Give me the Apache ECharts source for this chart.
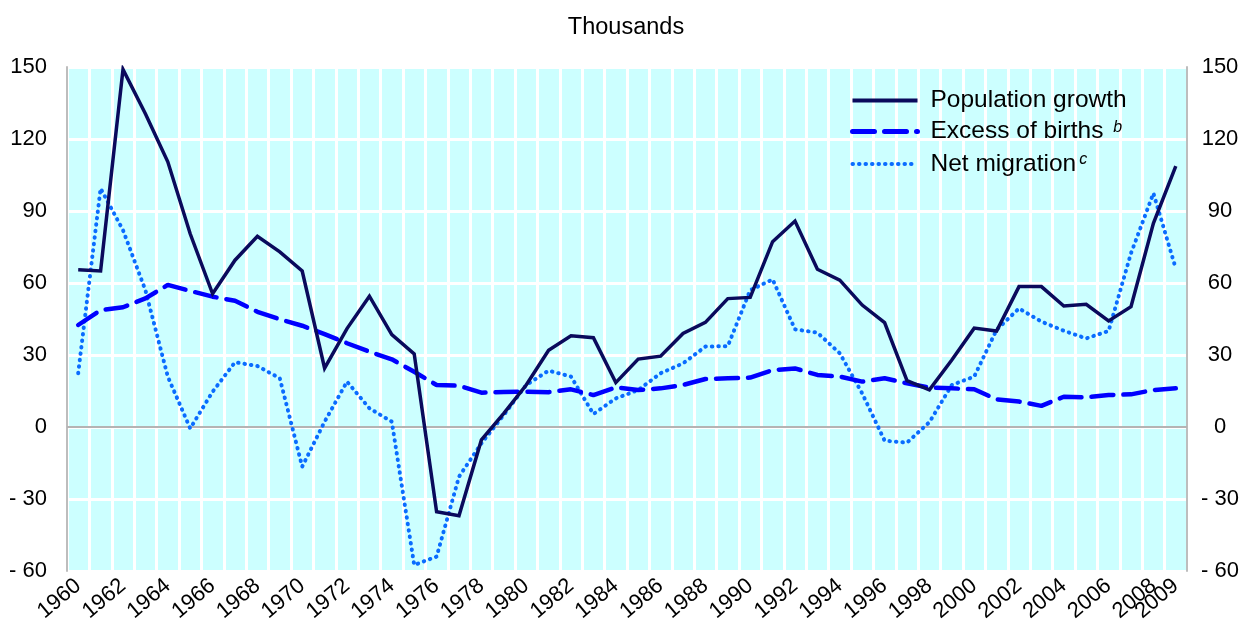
<!DOCTYPE html>
<html>
<head>
<meta charset="utf-8">
<script src="https://cdn.jsdelivr.net/npm/echarts@6/dist/echarts.min.js"></script>
<style>
html,body{margin:0;padding:0;background:#fff;}
#chart{width:1252px;height:619px;}
</style>
</head>
<body>
<div id="chart"></div>
<script>
const years = [];
for (let y = 1960; y <= 2009; y++) years.push(String(y));

const populationGrowth = [65.5, 65, 149, 130.5, 110.5, 80.5, 55.5, 69.5, 79.5, 73, 65, 24.5,
  41, 54.5, 38.5, 30.5, -35.3, -37, -5.4, 5.7, 17.5, 32, 38, 37.2, 18.5,
  28.3, 29.5, 39, 43.6, 53.5, 54, 77.2, 85.8, 65.7, 61.2, 50.8, 43.5, 19.3,
  15.5, 27.9, 41.2, 40, 58.5, 58.5, 50.4, 51.1, 44.2, 50.1, 84.9, 108.7];

const excessOfBirths = [42.5, 48.7, 49.9, 53.6, 59.2, 56.7, 54.3, 52.6, 48, 44.9, 42.2, 38.7,
  34.9, 31.4, 28.2, 23, 17.5, 17.2, 14.3, 14.6, 14.7, 14.5, 15.7, 13.3, 16.5,
  15.4, 16.1, 17.5, 20, 20.3, 20.6, 23.7, 24.4, 21.7, 21, 18.9, 20.3, 18.2,
  16.4, 16.1, 15.7, 11.5, 10.6, 8.8, 12.6, 12.4, 13.3, 13.6, 15.4, 16.1];

const netMigration = [22.4, 99.4, 82, 57, 21, -0.6, 14.7, 27, 25.4, 20.3, -16.5, 2.2,
  18.9, 7.8, 2.2, -57.5, -54, -20.7, -6.8, 5, 17.5, 23.5, 21, 5.4, 11.9,
  15.4, 22.4, 26.5, 33.5, 33.7, 57, 61.5, 40.7, 39.3, 30.7, 14, -5.7, -6.5,
  2, 17.5, 21, 40.5, 49.4, 43.9, 40.1, 36.9, 40, 72.4, 97.4, 66];

const yTicks = {min: -60, max: 150, interval: 30};

const chart = echarts.init(document.getElementById('chart'), null, {renderer: 'canvas'});
const FONT = '"Liberation Sans", Arial, sans-serif';
const fmt = v => v < 0 ? '- ' + Math.abs(v) : String(v);
const BORDER = {show: true, lineStyle: {color: '#bdbdbd', width: 2}};
const xLabelStyle = {rotate: 40, margin: 12, fontFamily: FONT, fontSize: 22, color: '#000'};

const solidStyle = {color: '#0a0a5c', width: 3.5, join: 'miter'};
const dashStyle = {color: '#0000ff', width: 4.5, type: [22, 10], cap: 'round'};
const dotStyle = {color: '#0a6cff', width: 4, type: [0.5, 6], cap: 'round'};

chart.setOption({
  animation: false,
  backgroundColor: '#ffffff',
  title: {
    text: 'Thousands',
    left: 'center',
    top: 11,
    textStyle: {fontFamily: FONT, fontSize: 23.5, fontWeight: 'normal', color: '#000'}
  },
  grid: {
    left: 67, right: 65, top: 67, bottom: 48,
    outerBoundsMode: 'none',
    containLabel: false,
    show: true,
    backgroundColor: '#ccffff',
    borderWidth: 0
  },
  legend: {
    orient: 'vertical',
    left: 845,
    top: 83,
    itemWidth: 65,
    itemHeight: 14,
    itemGap: 6,
    itemStyle: {opacity: 0},
    textStyle: {
      fontFamily: FONT, fontSize: 24.5, color: '#000', lineHeight: 22,
      padding: [0, 0, 0, 8],
      rich: {
        n: {fontFamily: FONT, fontSize: 24.5, color: '#000', lineHeight: 24},
        s: {fontFamily: FONT, fontSize: 16, fontStyle: 'italic', color: '#000', verticalAlign: 'top', padding: [0, 0, 10, 3], lineHeight: 24}
      }
    },
    formatter: function (name) {
      if (name === 'Excess of births') return '{n|Excess of births }{s|b}';
      if (name === 'Net migration') return '{n|Net migration}{s|c}';
      return '{n|' + name + '}';
    },
    data: [
      {name: 'Population growth', lineStyle: {width: 4}},
      {name: 'Excess of births', lineStyle: {width: 5}},
      {name: 'Net migration', lineStyle: {width: 4}}
    ]
  },
  xAxis: [{
    type: 'category',
    data: years,
    boundaryGap: true,
    position: 'bottom',
    axisLine: BORDER,
    axisTick: {show: false},
    splitLine: {show: true, interval: 0, lineStyle: {color: '#ffffff', width: 3}},
    axisLabel: Object.assign({
      interval: function (i) { return i % 2 === 0; }
    }, xLabelStyle)
  }, {
    type: 'category',
    data: years,
    position: 'top',
    axisLine: BORDER,
    axisTick: {show: false},
    axisLabel: {show: false},
    splitLine: {show: false}
  }, {
    type: 'category',
    data: years,
    position: 'bottom',
    offset: 0,
    axisLine: {show: false},
    axisTick: {show: false},
    splitLine: {show: false},
    axisLabel: Object.assign({
      interval: function (i) { return i === years.length - 1; },
      showMaxLabel: true
    }, xLabelStyle)
  }],
  yAxis: [{
    type: 'value',
    min: yTicks.min, max: yTicks.max, interval: yTicks.interval,
    axisLine: BORDER,
    axisTick: {show: false},
    splitLine: {show: true, lineStyle: {color: '#ffffff', width: 3}},
    axisLabel: {formatter: fmt, fontFamily: FONT, fontSize: 22, color: '#000', margin: 20}
  }, {
    type: 'value',
    position: 'right',
    min: yTicks.min, max: yTicks.max, interval: yTicks.interval,
    axisLine: BORDER,
    axisTick: {show: false},
    splitLine: {show: false},
    axisLabel: {formatter: fmt, fontFamily: FONT, fontSize: 22, color: '#000', margin: 33, align: 'center'}
  }],
  series: [{
    name: 'Population growth',
    type: 'line',
    data: populationGrowth,
    symbol: 'none',
    z: 5,
    lineStyle: solidStyle,
    itemStyle: {color: solidStyle.color},
    markLine: {
      silent: true, symbol: 'none', label: {show: false},
      lineStyle: {color: '#b4b4b4', width: 2, type: 'solid'},
      data: [{yAxis: 0}],
      z: 1
    }
  }, {
    name: 'Excess of births',
    type: 'line',
    data: excessOfBirths,
    symbol: 'none',
    z: 4,
    lineStyle: dashStyle,
    itemStyle: {color: dashStyle.color}
  }, {
    name: 'Net migration',
    type: 'line',
    data: netMigration,
    symbol: 'none',
    z: 3,
    lineStyle: dotStyle,
    itemStyle: {color: dotStyle.color}
  }]
});
</script>
</body>
</html>
